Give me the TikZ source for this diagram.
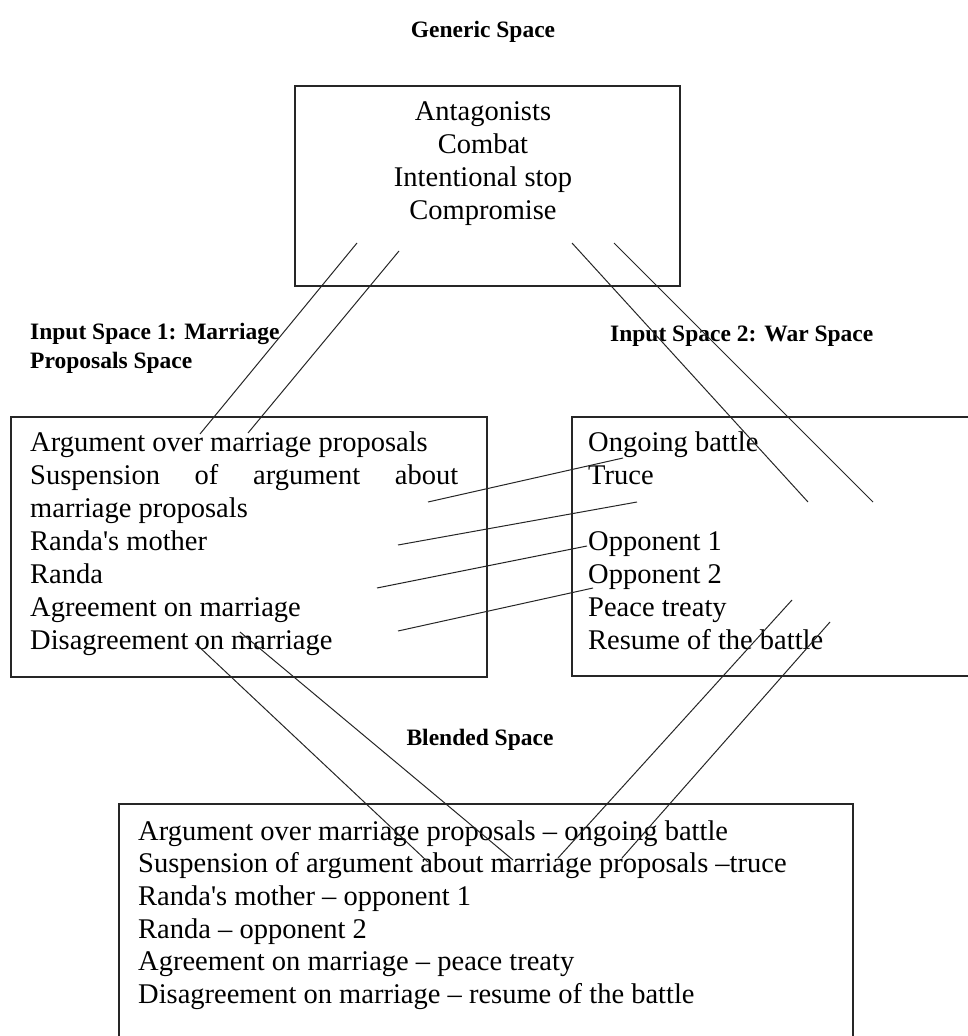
\documentclass[tikz,border=0pt]{standalone}
\usepackage{fontspec}
% no TeX mapping: keep the straight apostrophe, dashes typed as characters
\setmainfont{Liberation Serif}[Ligatures=TeXOff]
\begin{document}
\begin{tikzpicture}[x=1pt,y=-1pt,
  frame/.style={draw=black!85, line width=1.6pt, rectangle, anchor=north west, inner sep=0pt},
  body/.style={inner sep=0pt, font=\fontsize{28.5}{33}\selectfont},
  title/.style={inner sep=0pt, font=\fontsize{23.5}{30}\selectfont\bfseries},
  link/.style={draw=black!85, line width=1pt}]
\useasboundingbox (0,0) rectangle (968,1036);
\clip (0,0) rectangle (968,1036);

% titles
\node[title, anchor=base] (tgen) at (483,37) {Generic Space};
\node[title, anchor=base west] (tin1a) at (30,339) {Input Space 1: Marriage};
\node[title, anchor=base west] (tin1b) at (30,368) {Proposals Space};
\node[title, anchor=base west] (tin2) at (610,341) {Input Space 2: War Space};
\node[title, anchor=base] (tbl) at (480,745) {Blended Space};

% frames
\node[frame, minimum width=385pt, minimum height=200pt] (gen) at (294,85) {};
\node[frame, minimum width=476pt, minimum height=260pt] (inone) at (10,416) {};
\node[frame, minimum width=420pt, minimum height=259pt] (intwo) at (571,416) {};
\node[frame, minimum width=734pt, minimum height=260pt] (blend) at (118,803) {};

% generic space contents
\foreach \t [count=\i] in {Antagonists, Combat, Intentional stop, Compromise}
  \node[body, anchor=base] (g\i) at (483,{120+33*(\i-1)}) {\t};

% input space 1 contents
\foreach \t [count=\i] in {Argument over marriage proposals,
    {\hbox to 428pt{Suspension\hfill of\hfill argument\hfill about}},
    marriage proposals, Randa's mother, Randa,
    Agreement on marriage, Disagreement on marriage}
  \node[body, anchor=base west] (a\i) at (30,{451+33*(\i-1)}) {\t};

% input space 2 contents
\node[body, anchor=base west] (b1) at (588,451) {Ongoing battle};
\node[body, anchor=base west] (b2) at (588,484) {Truce};
\node[body, anchor=base west] (b3) at (588,550) {Opponent 1};
\node[body, anchor=base west] (b4) at (588,583) {Opponent 2};
\node[body, anchor=base west] (b5) at (588,616) {Peace treaty};
\node[body, anchor=base west] (b6) at (588,649) {Resume of the battle};

% blended space contents
\foreach \t [count=\i] in {Argument over marriage proposals – ongoing battle,
    Suspension of argument about marriage proposals –truce,
    Randa's mother – opponent 1, Randa – opponent 2,
    Agreement on marriage – peace treaty,
    Disagreement on marriage – resume of the battle}
  \node[body, anchor=base west] (c\i) at (138,{840+32.7*(\i-1)}) {\t};

% connector end points
\coordinate (gl1) at (357,243); \coordinate (il1) at (200,434);
\coordinate (gl2) at (399,251); \coordinate (il2) at (248,433);
\coordinate (gr1) at (572,243); \coordinate (ir1) at (808,502);
\coordinate (gr2) at (614,243); \coordinate (ir2) at (873,502);

\coordinate (xa1) at (428,502); \coordinate (xa2) at (623,458);
\coordinate (xb1) at (398,545); \coordinate (xb2) at (637,502);
\coordinate (xc1) at (377,588); \coordinate (xc2) at (587,546);
\coordinate (xd1) at (398,631); \coordinate (xd2) at (593,588);

\coordinate (ol1) at (195,643); \coordinate (bl1) at (428,862);
\coordinate (ol2) at (240,632); \coordinate (bl2) at (513,860);
\coordinate (or1) at (792,600); \coordinate (br1) at (558,858);
\coordinate (or2) at (830,622); \coordinate (br2) at (622,858);

% generic space to the inputs
\draw[link] (gl1) -- (il1);
\draw[link] (gl2) -- (il2);
\draw[link] (gr1) -- (ir1);
\draw[link] (gr2) -- (ir2);

% cross-space mappings
\draw[link] (xa1) -- (xa2);
\draw[link] (xb1) -- (xb2);
\draw[link] (xc1) -- (xc2);
\draw[link] (xd1) -- (xd2);

% inputs to the blend
\draw[link] (ol1) -- (bl1);
\draw[link] (ol2) -- (bl2);
\draw[link] (or1) -- (br1);
\draw[link] (or2) -- (br2);
\end{tikzpicture}
\end{document}
